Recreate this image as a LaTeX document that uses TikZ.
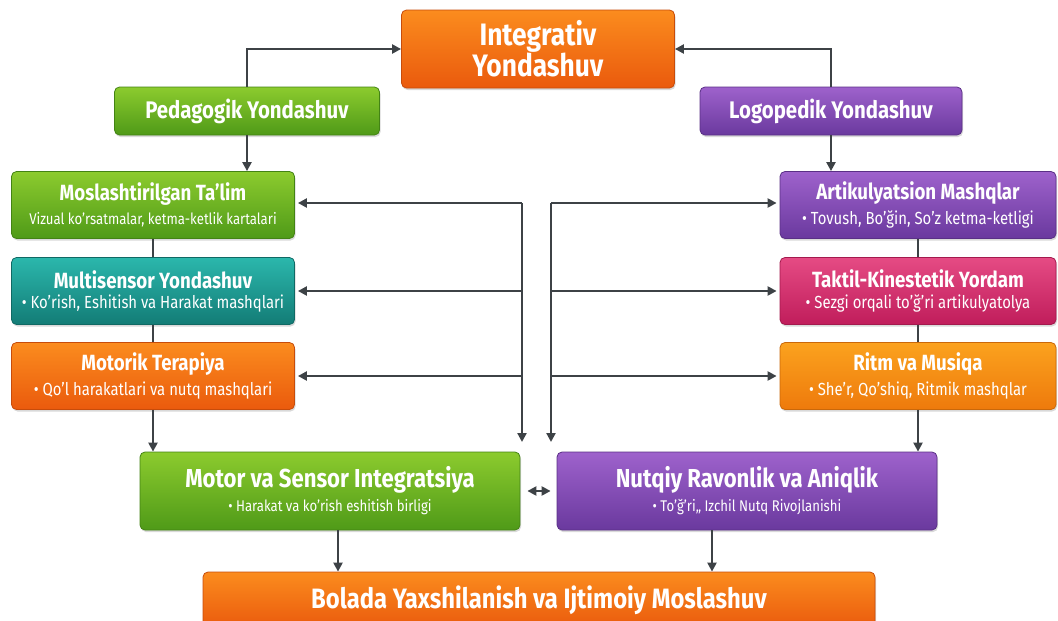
\documentclass[tikz,border=0pt]{standalone}
\usepackage{fontspec}
\setmainfont{Fira Sans}[FakeStretch=0.85]
\usetikzlibrary{positioning,arrows.meta,shadows}

\definecolor{grnT}{HTML}{8CCB2E}
\definecolor{grnB}{HTML}{4F9A18}
\definecolor{orgT}{HTML}{FB8C1E}
\definecolor{orgB}{HTML}{EA5A0D}
\definecolor{purT}{HTML}{9E62CC}
\definecolor{purB}{HTML}{6A399E}
\definecolor{tealT}{HTML}{2BB7AC}
\definecolor{tealB}{HTML}{137C76}
\definecolor{pnkT}{HTML}{E54B84}
\definecolor{pnkB}{HTML}{C01D5B}
\definecolor{ylwT}{HTML}{FBA21E}
\definecolor{ylwB}{HTML}{EE7A0C}
\definecolor{lnk}{HTML}{3D4246}

\newcommand{\ttl}[1]{{\bfseries\fontsize{22}{25}\selectfont #1}}
\newcommand{\sub}[1]{{\fontsize{17.5}{20}\selectfont #1}}
\newcommand{\bigttl}[1]{{\bfseries\fontsize{26}{29}\selectfont #1}}

\tikzset{
  box/.style={rounded corners=5pt, text=white, align=center, inner sep=2pt,
    line width=0.8pt, drop shadow={opacity=0.3, shadow xshift=1pt, shadow yshift=-2pt}},
  grnbox/.style={box, top color=grnT, bottom color=grnB, draw=grnB!85!black},
  orgbox/.style={box, top color=orgT, bottom color=orgB, draw=orgB!85!black},
  purbox/.style={box, top color=purT, bottom color=purB, draw=purB!85!black},
  tealbox/.style={box, top color=tealT, bottom color=tealB, draw=tealB!85!black},
  pnkbox/.style={box, top color=pnkT, bottom color=pnkB, draw=pnkB!85!black},
  ylwbox/.style={box, top color=ylwT, bottom color=ylwB, draw=ylwB!85!black},
  colbox/.style={minimum width=283, minimum height=67},
  link/.style={draw=lnk, line width=2.2pt, -{Triangle[length=9pt,width=9pt]}},
  bar/.style={draw=lnk, line width=2.2pt},
}

\begin{document}
\begin{tikzpicture}[x=1pt, y=-1pt]
  \useasboundingbox (0,0) rectangle (1058,621);

  % Top
  \node[orgbox, minimum width=273, minimum height=78,
    font=\bfseries\fontsize{31}{31}\selectfont] (integ) at (538,49) {Integrativ\\Yondashuv};
  \node[grnbox, minimum width=265, minimum height=48,
    font=\bfseries\fontsize{24}{26}\selectfont] (ped) at (247,111) {Pedagogik Yondashuv};
  \node[purbox, minimum width=262, minimum height=48,
    font=\bfseries\fontsize{24}{26}\selectfont] (logo) at (831,111) {Logopedik Yondashuv};

  % Left column
  \node[grnbox, colbox] (mosl) at (153,205)
    {\ttl{Moslashtirilgan Ta’lim}\\[6pt]{\fontsize{15.5}{18}\selectfont Vizual ko’rsatmalar, ketma-ketlik kartalari}};
  \node[tealbox, colbox] (multi) at (153,291)
    {\ttl{Multisensor Yondashuv}\\[5pt]\sub{• Ko’rish, Eshitish va Harakat mashqlari}};
  \node[orgbox, colbox] (motr) at (153,376)
    {\ttl{Motorik Terapiya}\\[5pt]\sub{• Qo’l harakatlari va nutq mashqlari}};

  % Right column
  \node[purbox, colbox, minimum width=276] (artik) at (918,205)
    {\ttl{Artikulyatsion Mashqlar}\\[5pt]\sub{• Tovush, Bo’ğin, So’z ketma-ketligi}};
  \node[pnkbox, colbox, minimum width=276] (takt) at (918,291)
    {\ttl{Taktil-Kinestetik Yordam}\\[5pt]\sub{• Sezgi orqali to’ğ’ri artikulyatolya}};
  \node[ylwbox, colbox, minimum width=276] (ritm) at (918,376)
    {\ttl{Ritm va Musiqa}\\[5pt]\sub{• She’r, Qo’shiq, Ritmik mashqlar}};

  % Bottom
  \node[grnbox, minimum width=380, minimum height=78] (msi) at (330,491)
    {\bigttl{Motor va Sensor Integratsiya}\\[5pt]{\fontsize{15.5}{18}\selectfont • Harakat va ko’rish eshitish birligi}};
  \node[purbox, minimum width=380, minimum height=78] (nra) at (747,491)
    {\bigttl{Nutqiy Ravonlik va Aniqlik}\\[5pt]{\fontsize{15.5}{18}\selectfont • To’ğ’ri,, Izchil Nutq Rivojlanishi}};
  \node[orgbox, minimum width=672, minimum height=56,
    font=\bfseries\fontsize{28}{30}\selectfont] (bol) at (539,600)
    {Bolada Yaxshilanish va Ijtimoiy Moslashuv};

  % Hubs
  \coordinate (hubL) at (522,203);
  \coordinate (hubR) at (551,203);
  \coordinate (downL) at (522,442);
  \coordinate (downR) at (551,442);

  % Connectors
  \draw[link] (ped.north) |- (integ.west);
  \draw[link] (logo.north) |- (integ.east);
  \draw[link] (ped.south) -- (ped.south |- mosl.north);
  \draw[link] (logo.south) -- (logo.south |- artik.north);
  \draw[bar] (mosl) -- (multi);
  \draw[bar] (multi) -- (motr);
  \draw[bar] (artik) -- (takt);
  \draw[bar] (takt) -- (ritm);
  \draw[link] (motr.south) -- (motr.south |- msi.north);
  \draw[link] (ritm.south) -- (ritm.south |- nra.north);

  \draw[link] (hubL) -- (downL);
  \draw[link] (hubR) -- (downR);
  \draw[link, shorten >=3pt] (hubL) -- (hubL -| mosl.east);
  \draw[link, shorten >=3pt] (hubL |- multi.east) -- (multi.east);
  \draw[link, shorten >=3pt] (hubL |- motr.east) -- (motr.east);
  \draw[link, shorten >=3pt] (hubR) -- (hubR -| artik.west);
  \draw[link, shorten >=3pt] (hubR |- takt.west) -- (takt.west);
  \draw[link, shorten >=3pt] (hubR |- ritm.west) -- (ritm.west);

  \draw[link, {Triangle[length=9pt,width=9pt]}-{Triangle[length=9pt,width=9pt]}, shorten <=7pt, shorten >=6pt]
    (msi.east) -- (nra.west);
  \draw[link] ([xshift=8]msi.south) -- ([xshift=8]msi.south |- bol.north);
  \draw[link] ([xshift=-35]nra.south) -- ([xshift=-35]nra.south |- bol.north);
\end{tikzpicture}
\end{document}
